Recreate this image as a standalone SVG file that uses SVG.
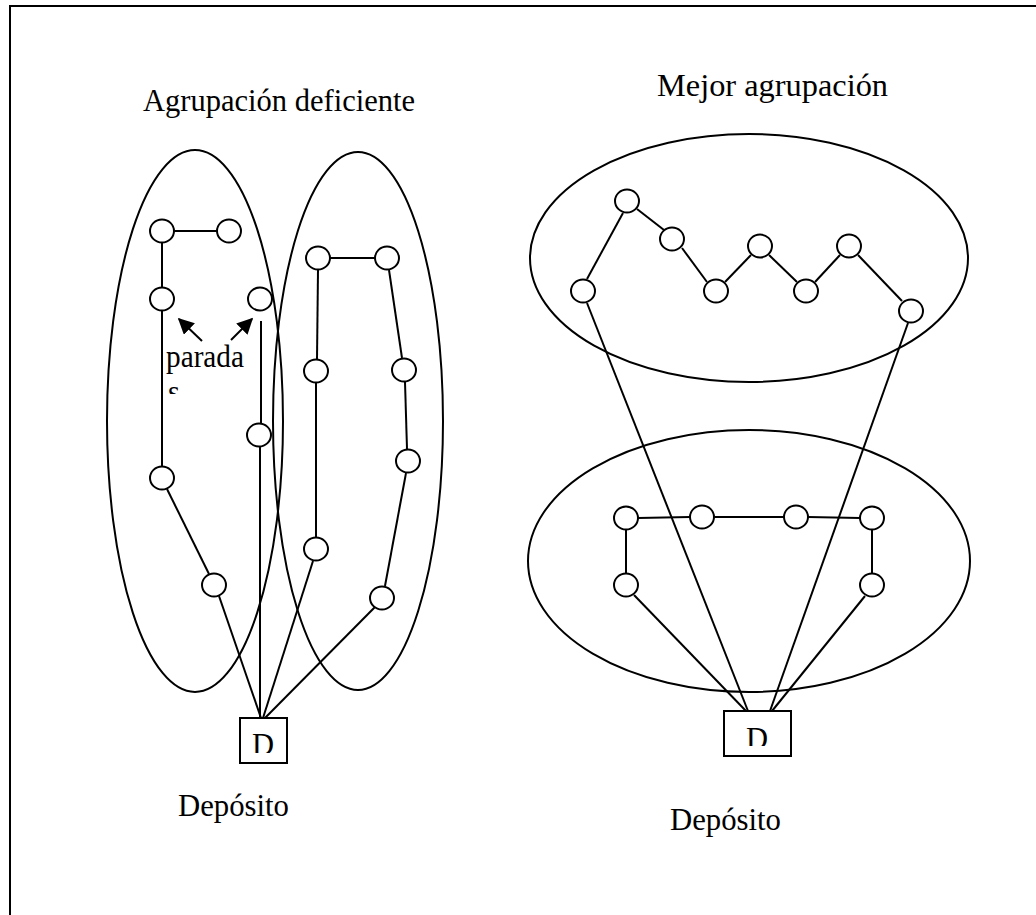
<svg xmlns="http://www.w3.org/2000/svg" width="1036" height="915" viewBox="0 0 1036 915">
<style>
.s{fill:none;stroke:#000;stroke-width:2}
.n{fill:#fff;stroke:#000;stroke-width:2}
.c{fill:none;stroke:#000;stroke-width:2}
.t{font-family:"Liberation Serif","Times New Roman",serif;font-size:30.5px;fill:#000}
</style>
<defs>
<marker id="ah" viewBox="0 0 10 10" refX="9" refY="5" markerWidth="8" markerHeight="8" orient="auto-start-reverse" markerUnits="strokeWidth">
<path d="M0,0 L10,5 L0,10 z" fill="#000"/>
</marker>
<clipPath id="clipS"><rect x="150" y="380" width="40" height="14"/></clipPath>
<clipPath id="clipD1"><rect x="241" y="719" width="45" height="34"/></clipPath>
<clipPath id="clipD2"><rect x="725" y="712" width="65" height="34"/></clipPath>
</defs>
<rect x="10" y="6" width="1040" height="1000" class="s"/>

<g id="titles">
<text class="t" x="143" y="111" textLength="272" lengthAdjust="spacingAndGlyphs">Agrupación deficiente</text>
<text class="t" x="657" y="96" textLength="231" lengthAdjust="spacingAndGlyphs">Mejor agrupación</text>
<text class="t" x="178" y="816" textLength="111" lengthAdjust="spacingAndGlyphs">Depósito</text>
<text class="t" x="670" y="830" textLength="111" lengthAdjust="spacingAndGlyphs">Depósito</text>
<text class="t" x="166" y="367" textLength="78" lengthAdjust="spacingAndGlyphs">parada</text>
<text class="t" x="168" y="402" clip-path="url(#clipS)">s</text>
</g>

<g id="clusters">
<ellipse id="cluster-left-a" class="s" cx="195" cy="421" rx="88" ry="271"/>
<ellipse id="cluster-left-b" class="s" cx="358" cy="421" rx="85" ry="269"/>
<ellipse id="cluster-right-top" class="s" cx="749" cy="258" rx="219" ry="124"/>
<ellipse id="cluster-right-bottom" class="s" cx="749" cy="561" rx="221" ry="131"/>
</g>

<g id="connectors">
<line class="c" x1="174" y1="231" x2="217" y2="231"/>
<line class="c" x1="162" y1="243" x2="162" y2="287"/>
<line class="c" x1="162" y1="311" x2="162" y2="466"/>
<line class="c" x1="167" y1="489" x2="209" y2="574"/>
<line class="c" x1="219" y1="596" x2="261" y2="718"/>
<line class="c" x1="261" y1="321" x2="261" y2="423"/>
<line class="c" x1="260" y1="447" x2="260" y2="718"/>
<line class="c" x1="330" y1="258" x2="375" y2="258"/>
<line class="c" x1="318" y1="270" x2="317" y2="359"/>
<line class="c" x1="316" y1="383" x2="316" y2="537"/>
<line class="c" x1="313" y1="561" x2="263" y2="718"/>
<line class="c" x1="389" y1="270" x2="402" y2="358"/>
<line class="c" x1="405" y1="382" x2="407" y2="449"/>
<line class="c" x1="406" y1="473" x2="385" y2="586"/>
<line class="c" x1="375" y1="607" x2="265" y2="718"/>
<line class="c" x1="202" y1="341" x2="179" y2="319" marker-end="url(#ah)"/>
<line class="c" x1="231" y1="340" x2="252" y2="319" marker-end="url(#ah)"/>

<line class="c" x1="587" y1="279" x2="623" y2="213"/>
<line class="c" x1="637" y1="209" x2="664" y2="230"/>
<line class="c" x1="682" y1="248" x2="707" y2="282"/>
<line class="c" x1="725" y1="282" x2="751" y2="255"/>
<line class="c" x1="769" y1="255" x2="797" y2="282"/>
<line class="c" x1="815" y1="282" x2="840" y2="255"/>
<line class="c" x1="858" y1="255" x2="902" y2="301"/>
<line class="c" x1="587" y1="303" x2="748" y2="711"/>
<line class="c" x1="908" y1="323" x2="770" y2="711"/>
<line class="c" x1="638" y1="518" x2="690" y2="517"/>
<line class="c" x1="714" y1="517" x2="784" y2="517"/>
<line class="c" x1="808" y1="517" x2="860" y2="518"/>
<line class="c" x1="626" y1="530" x2="626" y2="573"/>
<line class="c" x1="872" y1="530" x2="872" y2="573"/>
<line class="c" x1="634" y1="595" x2="746" y2="711"/>
<line class="c" x1="865" y1="596" x2="772" y2="711"/>
</g>

<g id="nodes-left">
<ellipse class="n" cx="162" cy="231" rx="12" ry="11.5"/>
<ellipse class="n" cx="229" cy="231" rx="12" ry="11.5"/>
<ellipse class="n" cx="162" cy="299" rx="12" ry="11.5"/>
<ellipse class="n" cx="260" cy="299" rx="12" ry="11.5"/>
<ellipse class="n" cx="162" cy="478" rx="12" ry="11.5"/>
<ellipse class="n" cx="214" cy="585" rx="12" ry="11.5"/>
<ellipse class="n" cx="259" cy="435" rx="12" ry="11.5"/>
<ellipse class="n" cx="318" cy="258" rx="12" ry="11.5"/>
<ellipse class="n" cx="387" cy="258" rx="12" ry="11.5"/>
<ellipse class="n" cx="316" cy="371" rx="12" ry="11.5"/>
<ellipse class="n" cx="404" cy="370" rx="12" ry="11.5"/>
<ellipse class="n" cx="408" cy="461" rx="12" ry="11.5"/>
<ellipse class="n" cx="316" cy="549" rx="12" ry="11.5"/>
<ellipse class="n" cx="382" cy="598" rx="12" ry="11.5"/>
</g>

<g id="nodes-right">
<ellipse class="n" cx="627" cy="201" rx="12" ry="11.5"/>
<ellipse class="n" cx="672" cy="239" rx="12" ry="11.5"/>
<ellipse class="n" cx="583" cy="291" rx="12" ry="11.5"/>
<ellipse class="n" cx="716" cy="291" rx="12" ry="11.5"/>
<ellipse class="n" cx="760" cy="246" rx="12" ry="11.5"/>
<ellipse class="n" cx="806" cy="291" rx="12" ry="11.5"/>
<ellipse class="n" cx="849" cy="246" rx="12" ry="11.5"/>
<ellipse class="n" cx="911" cy="311" rx="12" ry="11.5"/>
<ellipse class="n" cx="626" cy="518" rx="12" ry="11.5"/>
<ellipse class="n" cx="702" cy="517" rx="12" ry="11.5"/>
<ellipse class="n" cx="796" cy="517" rx="12" ry="11.5"/>
<ellipse class="n" cx="872" cy="518" rx="12" ry="11.5"/>
<ellipse class="n" cx="626" cy="585" rx="12" ry="11.5"/>
<ellipse class="n" cx="872" cy="585" rx="12" ry="11.5"/>
</g>

<g id="depot-left">
<rect x="240" y="718" width="47" height="45" class="s"/>
<text class="t" x="263" y="755" text-anchor="middle" clip-path="url(#clipD1)">D</text>
</g>
<g id="depot-right">
<rect x="724" y="711" width="67" height="45" class="s"/>
<text class="t" x="757" y="749" text-anchor="middle" clip-path="url(#clipD2)">D</text>
</g>
</svg>
